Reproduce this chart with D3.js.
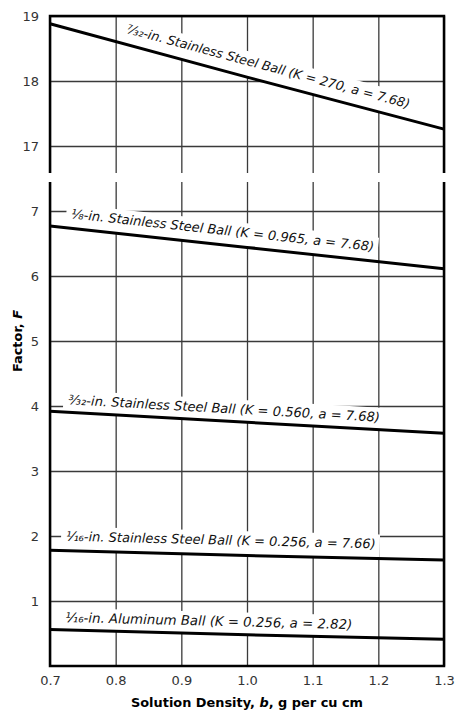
<!DOCTYPE html>
<html>
<head>
<meta charset="utf-8">
<script src="https://cdn.jsdelivr.net/npm/d3@7"></script>
<style>
  body { margin: 0; background: #fff; }
  svg text { font-family: "DejaVu Sans", Verdana, sans-serif; }
</style>
</head>
<body>
<div id="chart"></div>
<script>
// solution density (g per cu cm) where the factor was read
const density = [0.7, 1.0, 1.3];
const densityTicks = [0.7, 0.8, 0.9, 1.0, 1.1, 1.2, 1.3];
const upperTicks = [17, 18, 19];
const lowerTicks = [1, 2, 3, 4, 5, 6, 7];

// factor F for each ball
const ss732 = [18.88, 18.06, 17.26];
const ss18 = [6.77, 6.44, 6.11];
const ss332 = [3.92, 3.75, 3.58];
const ss116 = [1.78, 1.70, 1.63];
const al116 = [0.56, 0.48, 0.41];

const ballLabels = [
  "⁷⁄₃₂-in. Stainless Steel Ball (K = 270, a = 7.68)",
  "⅛-in. Stainless Steel Ball (K = 0.965, a = 7.68)",
  "³⁄₃₂-in. Stainless Steel Ball (K = 0.560, a = 7.68)",
  "¹⁄₁₆-in. Stainless Steel Ball (K = 0.256, a = 7.66)",
  "¹⁄₁₆-in. Aluminum Ball (K = 0.256, a = 2.82)"
];
const ballValues = [ss732, ss18, ss332, ss116, al116];

// where along the line each label starts, how far above it sits, its size
const labelStart = [0.811, 0.730, 0.727, 0.724, 0.723];
const labelLift = [11, 10, 8, 10, 8];
const labelSize = [12.8, 13, 13.1, 13, 13.3];

const width = 456, height = 712;
const left = 50, right = 444;
const upperTop = 16, upperBottom = 173;
const lowerTop = 182, lowerBottom = 666;

const svg = d3.select("#chart").append("svg")
  .attr("width", width)
  .attr("height", height);

const x = d3.scaleLinear().domain([0.7, 1.3]).range([left, right]);
const yUp = d3.scaleLinear().domain([17, 19]).range([146, upperTop]);
const yLo = d3.scaleLinear().domain([0, 7]).range([lowerBottom, 211]);

const gridColor = "#3a3a3a";

// vertical grid, upper panel
svg.append("g")
  .attr("transform", `translate(0,${upperBottom})`)
  .call(d3.axisBottom(x).tickValues(densityTicks).tickSize(-(upperBottom - upperTop)).tickFormat(""))
  .call(g => g.select(".domain").remove());

// vertical grid + labels, lower panel
svg.append("g")
  .attr("transform", `translate(0,${lowerBottom})`)
  .call(d3.axisBottom(x).tickValues(densityTicks).tickSize(-(lowerBottom - lowerTop))
    .tickPadding(10).tickFormat(d3.format(".1f")))
  .call(g => g.select(".domain").remove());

// horizontal grid
svg.append("g")
  .attr("transform", `translate(${left},0)`)
  .call(d3.axisLeft(yUp).tickValues(upperTicks).tickSize(-(right - left)).tickPadding(11).tickFormat(d3.format("d")))
  .call(g => g.select(".domain").remove());

svg.append("g")
  .attr("transform", `translate(${left},0)`)
  .call(d3.axisLeft(yLo).tickValues(lowerTicks).tickSize(-(right - left)).tickPadding(11).tickFormat(d3.format("d")))
  .call(g => g.select(".domain").remove());

svg.selectAll(".tick line").attr("stroke", gridColor).attr("stroke-width", 1.3);
svg.selectAll(".tick text")
  .attr("font-family", "DejaVu Sans, Verdana, sans-serif")
  .attr("font-size", 13)
  .attr("fill", "#333");

const bgLayer = svg.append("g");
const lineLayer = svg.append("g");
const borderLayer = svg.append("g");
const textLayer = svg.append("g");

const line = d3.line();

ballValues.forEach((vals, i) => {
  const yS = i === 0 ? yUp : yLo;
  const pts = density.map((d, j) => [x(d), yS(vals[j])]);
  lineLayer.append("path")
    .attr("d", line(pts))
    .attr("fill", "none")
    .attr("stroke", "#000")
    .attr("stroke-width", 3);

  const along = d3.scaleLinear().domain(density).range(vals);
  const x0 = x(labelStart[i]);
  const y0 = yS(along(labelStart[i]));
  const ang = Math.atan2(pts[2][1] - pts[0][1], pts[2][0] - pts[0][0]) * 180 / Math.PI;
  const tr = `translate(${x0},${y0}) rotate(${ang})`;

  const t = textLayer.append("text")
    .attr("transform", tr)
    .attr("y", -labelLift[i])
    .attr("font-size", labelSize[i])
    .attr("font-style", "italic")
    .attr("fill", "#111")
    .text(ballLabels[i]);
  const w = t.node().getComputedTextLength();

  bgLayer.append("rect")
    .attr("transform", tr)
    .attr("x", -5)
    .attr("y", -labelLift[i] - 14)
    .attr("width", w + 9)
    .attr("height", labelLift[i] + 14)
    .attr("fill", "#fff");
});

// panel frames
borderLayer.append("path")
  .attr("d", `M${left},${upperBottom}V${upperTop}H${right}V${upperBottom}`)
  .attr("fill", "none").attr("stroke", "#000").attr("stroke-width", 2.5);
borderLayer.append("path")
  .attr("d", `M${left},${lowerTop}V${lowerBottom}H${right}V${lowerTop}`)
  .attr("fill", "none").attr("stroke", "#000").attr("stroke-width", 2.5);

// axis titles
const xTitle = svg.append("text")
  .attr("x", x(1.0))
  .attr("y", 707)
  .attr("text-anchor", "middle")
  .attr("font-size", 12.9)
  .attr("font-weight", "bold");
xTitle.append("tspan").text("Solution Density, ");
xTitle.append("tspan").attr("font-style", "italic").text("b");
xTitle.append("tspan").text(", g per cu cm");

const yTitle = svg.append("text")
  .attr("transform", "translate(22,341) rotate(-90)")
  .attr("text-anchor", "middle")
  .attr("font-size", 12.9)
  .attr("font-weight", "bold");
yTitle.append("tspan").text("Factor, ");
yTitle.append("tspan").attr("font-style", "italic").text("F");
</script>
</body>
</html>
